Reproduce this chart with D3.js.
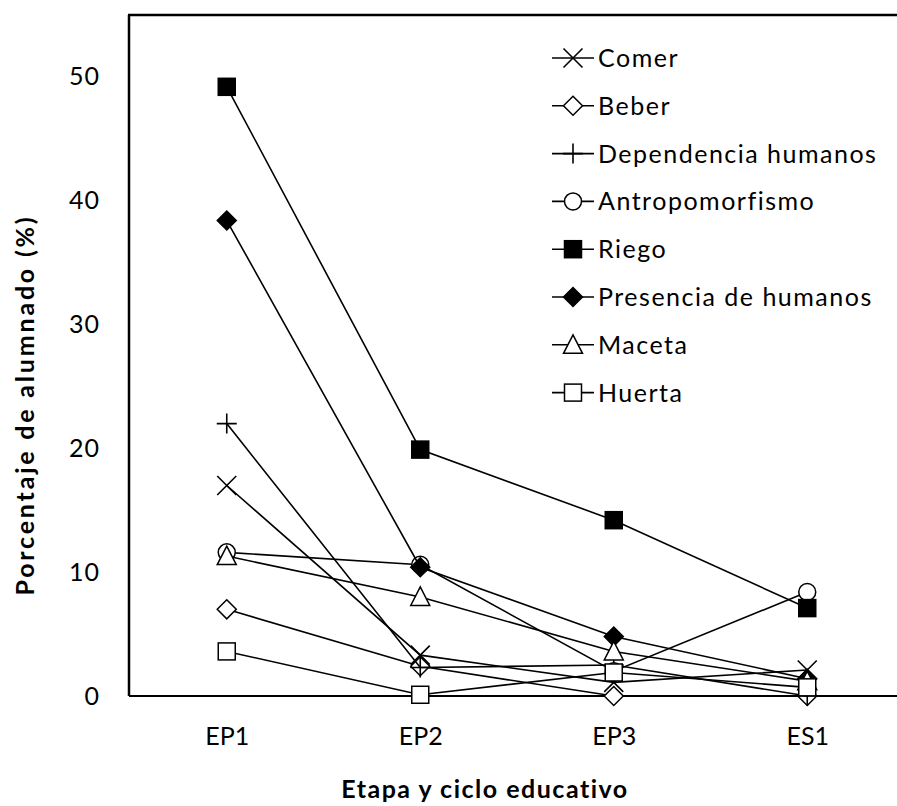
<!DOCTYPE html>
<html>
<head>
<meta charset="utf-8">
<script src="https://cdn.jsdelivr.net/npm/d3@7"></script>
<style>
  body { margin: 0; background: #fff; }
  svg { display: block; font-family: Lato, "Open Sans", sans-serif; }
</style>
</head>
<body>
<svg id="chart" width="897" height="806"></svg>
<script>
// categories and series
const categories = ["EP1", "EP2", "EP3", "ES1"];
const seriesNames = ["Comer", "Beber", "Dependencia humanos", "Antropomorfismo",
  "Riego", "Presencia de humanos", "Maceta", "Huerta"];
const comer = [17.0, 3.3, 1.1, 2.1];
const beber = [7.0, 2.4, 0, 0];
const dependencia = [22.0, 2.3, 2.5, 0];
const antropomorfismo = [11.6, 10.6, 2.0, 8.4];
const riego = [49.2, 19.9, 14.2, 7.1];
const presencia = [38.4, 10.4, 4.8, 1.4];
const maceta = [11.3, 8.0, 3.6, 1.2];
const huerta = [3.6, 0.1, 1.9, 0.7];
const yTicks = [0, 10, 20, 30, 40, 50];

const seriesValues = [comer, beber, dependencia, antropomorfismo, riego, presencia, maceta, huerta];
const markerKind = ["x", "diamondOpen", "plus", "circleOpen", "squareFilled", "diamondFilled", "triangleOpen", "squareOpen"];

const svg = d3.select("#chart");

const plotLeft = 129, plotRight = 897, plotTop = 15, plotBottom = 696;

const x = d3.scalePoint().domain(categories).range([130, 904]).padding(0.5);
const y = d3.scaleLinear().domain([0, 55]).range([plotBottom, plotTop]);

// frame: left, top, bottom
svg.append("line").attr("x1", plotLeft).attr("x2", plotLeft).attr("y1", plotTop).attr("y2", plotBottom)
  .attr("stroke", "#000").attr("stroke-width", 2.5);
svg.append("line").attr("x1", plotLeft - 1).attr("x2", plotRight).attr("y1", plotTop).attr("y2", plotTop)
  .attr("stroke", "#000").attr("stroke-width", 2.5);

// y axis labels
let yAxis = svg.append("g").attr("transform", "translate(" + plotLeft + ",0)")
  .call(d3.axisLeft(y).tickValues(yTicks).tickSize(0).tickPadding(29));
yAxis.select(".domain").remove();
yAxis.selectAll("text").attr("font-size", 25).attr("font-family", "Lato, sans-serif")
  .attr("letter-spacing", 1).attr("fill", "#000");

// x axis
let xAxis = svg.append("g").attr("transform", "translate(0," + plotBottom + ")")
  .call(d3.axisBottom(x).tickSize(0).tickPadding(31));
xAxis.select(".domain").remove();
xAxis.selectAll("text").attr("font-size", 25).attr("font-family", "Lato, sans-serif").attr("fill", "#000");
svg.append("line").attr("x1", plotLeft).attr("x2", plotRight).attr("y1", plotBottom).attr("y2", plotBottom)
  .attr("stroke", "#000").attr("stroke-width", 1.8);

// axis titles
svg.append("text").attr("x", 485).attr("y", 798).attr("text-anchor", "middle")
  .attr("font-size", 25).attr("font-weight", "bold").attr("letter-spacing", 1.5)
  .text("Etapa y ciclo educativo");
svg.append("text").attr("transform", "translate(34,405) rotate(-90)").attr("text-anchor", "middle")
  .attr("font-size", 25).attr("font-weight", "bold").attr("letter-spacing", 2.8)
  .text("Porcentaje de alumnado (%)");

function drawMarker(g, kind, cx, cy){
  let s = 9.5;
  if (kind == "x"){
    g.append("path").attr("d", `M${cx-s},${cy-s}L${cx+s},${cy+s}M${cx-s},${cy+s}L${cx+s},${cy-s}`)
      .attr("stroke", "#000").attr("stroke-width", 1.6).attr("fill", "none");
  } else if (kind == "plus"){
    g.append("path").attr("d", `M${cx-10},${cy}L${cx+10},${cy}M${cx},${cy-10}L${cx},${cy+10}`)
      .attr("stroke", "#000").attr("stroke-width", 1.6).attr("fill", "none");
  } else if (kind == "diamondOpen" || kind == "diamondFilled"){
    g.append("path").attr("d", `M${cx},${cy-s}L${cx+s},${cy}L${cx},${cy+s}L${cx-s},${cy}Z`)
      .attr("stroke", "#000").attr("stroke-width", 1.5)
      .attr("fill", kind == "diamondFilled" ? "#000" : "#fff");
  } else if (kind == "circleOpen"){
    g.append("circle").attr("cx", cx).attr("cy", cy).attr("r", 8.5)
      .attr("stroke", "#000").attr("stroke-width", 1.5).attr("fill", "#fff");
  } else if (kind == "squareFilled" || kind == "squareOpen"){
    g.append("rect").attr("x", cx - 8.5).attr("y", cy - 8.5).attr("width", 17).attr("height", 17)
      .attr("stroke", "#000").attr("stroke-width", 1.5)
      .attr("fill", kind == "squareFilled" ? "#000" : "#fff");
  } else if (kind == "triangleOpen"){
    g.append("path").attr("d", `M${cx},${cy-10}L${cx+9.5},${cy+8.5}L${cx-9.5},${cy+8.5}Z`)
      .attr("stroke", "#000").attr("stroke-width", 1.5).attr("fill", "#fff");
  }
}

const line = d3.line().x((d, i) => x(categories[i])).y(d => y(d));

seriesValues.forEach(function(vals, k){
  let g = svg.append("g").attr("class", "series");
  g.append("path").attr("d", line(vals)).attr("fill", "none")
    .attr("stroke", "#000").attr("stroke-width", 1.6);
  vals.forEach(function(v, i){
    drawMarker(g, markerKind[k], x(categories[i]), y(v));
  });
});

// legend
let legend = svg.append("g").attr("class", "legend");
seriesNames.forEach(function(name, k){
  let ly = 58 + k * 47.8;
  legend.append("line").attr("x1", 552).attr("x2", 594).attr("y1", ly).attr("y2", ly)
    .attr("stroke", "#000").attr("stroke-width", 1.6);
  drawMarker(legend, markerKind[k], 573, ly);
  legend.append("text").attr("x", 598).attr("y", ly).attr("dy", "0.36em")
    .attr("font-size", 25).attr("letter-spacing", 1.5).text(name);
});
</script>
</body>
</html>
